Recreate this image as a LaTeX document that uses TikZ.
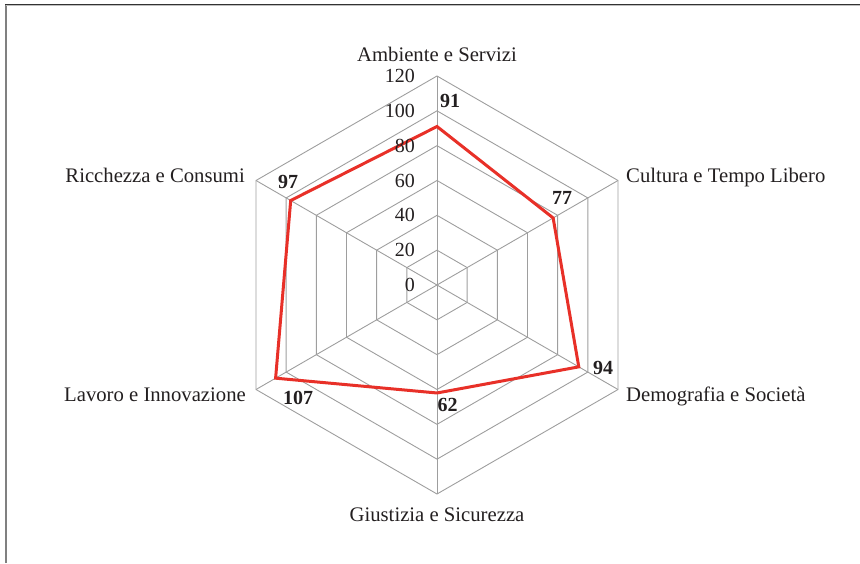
\documentclass[tikz,border=0pt]{standalone}
\usepackage{fontspec}
\setmainfont{Liberation Serif}
\usetikzlibrary{calc}
\definecolor{seriesred}{RGB}{232,48,40}
\definecolor{textdark}{RGB}{35,31,32}
\begin{document}
\begin{tikzpicture}[x=1pt,y=1pt,
  grid/.style={draw=black!38, line width=0.9pt},
  series/.style={draw=seriesred, line width=3pt, line join=miter},
  framedark/.style={draw=black!80, line width=1.4pt},
  framelight/.style={draw=black!50, line width=2pt},
  axlabel/.style={font=\fontsize{20.7}{24}\selectfont, inner sep=0pt, text=textdark},
  scalelabel/.style={font=\fontsize{20}{24}\selectfont, inner sep=0pt, text=textdark, anchor=east},
  vallabel/.style={font=\fontsize{20}{24}\selectfont\bfseries, inner sep=0pt, text=textdark, anchor=base west}]
\useasboundingbox (0,0) rectangle (860,563);
% frame
\coordinate (ftl) at (6,558.5);
\coordinate (ftr) at (860,558.5);
\coordinate (fbl) at (6,0);
\draw[framelight] (fbl) -- (ftl);
\draw[draw=black!25, line width=0.8pt] (6,557.2) -- (860,557.2);
\draw[framedark] (5,558.5) -- (ftr);
% centre
\coordinate (C) at (437,278);
% rings
\foreach \k in {1,...,6}{
  \draw[grid] ($(C)+(90:\k*34.833)$) -- ($(C)+(30:\k*34.833)$) -- ($(C)+(-30:\k*34.833)$)
    -- ($(C)+(-90:\k*34.833)$) -- ($(C)+(-150:\k*34.833)$) -- ($(C)+(150:\k*34.833)$) -- cycle;
}
% spokes
\foreach \a/\n in {90/a,30/b,-30/c,-90/d,-150/e,150/f}{
  \coordinate (o\n) at ($(C)+(\a:209)$);
  \draw[grid] (C) -- (o\n);
}
% data
\coordinate (pa) at ($(C)+(90:91*1.74167)$);
\coordinate (pb) at ($(C)+(30:77*1.74167)$);
\coordinate (pc) at ($(C)+(-30:94*1.74167)$);
\coordinate (pd) at ($(C)+(-90:62*1.74167)$);
\coordinate (pe) at ($(C)+(-150:107*1.74167)$);
\coordinate (pf) at ($(C)+(150:97*1.74167)$);
\draw[series] (pa) -- (pb) -- (pc) -- (pd) -- (pe) -- (pf) -- cycle;
% scale labels
\node[scalelabel] (s0) at (415,278) {0};
\node[scalelabel] (s20) at (415,312.83) {20};
\node[scalelabel] (s40) at (415,347.67) {40};
\node[scalelabel] (s60) at (415,382.5) {60};
\node[scalelabel] (s80) at (415,417.33) {80};
\node[scalelabel] (s100) at (415,452.17) {100};
\node[scalelabel] (s120) at (415,487) {120};
% axis labels
\node[axlabel, anchor=base] (la) at (437,501) {Ambiente e Servizi};
\node[axlabel, anchor=base west] (lb) at (626,380.5) {Cultura e Tempo Libero};
\node[axlabel, anchor=base west] (lc) at (626,161.5) {Demografia e Società};
\node[axlabel, anchor=base] (ld) at (437,41.5) {Giustizia e Sicurezza};
\node[axlabel, anchor=base east] (le) at (246,161.5) {Lavoro e Innovazione};
\node[axlabel, anchor=base east] (lf) at (245,380.5) {Ricchezza e Consumi};
% value labels
\node[vallabel] (va) at (440,455) {91};
\node[vallabel] (vb) at (552,358) {77};
\node[vallabel] (vc) at (593,188) {94};
\node[vallabel] (vd) at (437.5,151) {62};
\node[vallabel] (ve) at (283,158) {107};
\node[vallabel] (vf) at (278,374) {97};
\end{tikzpicture}
\end{document}
